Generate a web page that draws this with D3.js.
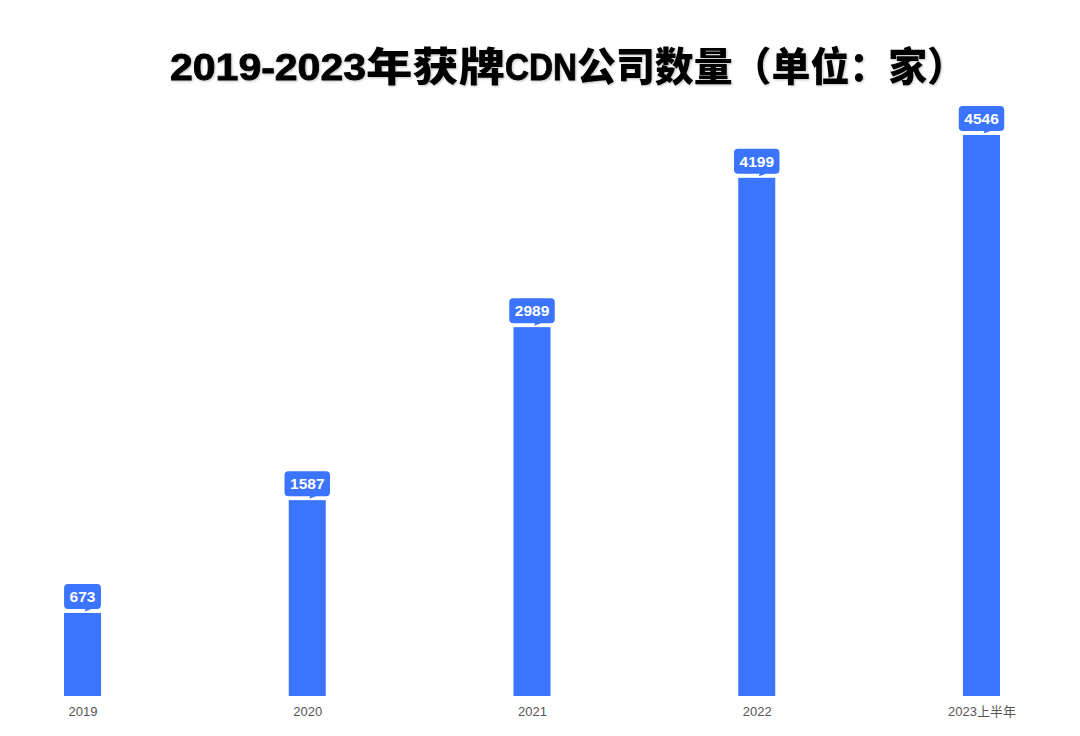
<!DOCTYPE html>
<html><head><meta charset="utf-8">
<script src="https://cdn.jsdelivr.net/npm/d3@7"></script>
<style>
html,body{margin:0;padding:0;background:#fff;}
</style></head>
<body>
<svg id="chart" width="1080" height="736"></svg>
<script>
const categories = ["2019","2020","2021","2022","2023上半年"];
const values = [673, 1587, 2989, 4199, 4546];
const titleParts = ["2019-2023", "年获牌", "CDN", "公司数量（单位：家）"];

const W = 1080, H = 736;
const svg = d3.select("#chart");
const barColor = "#3b74fe";

const x = d3.scalePoint().domain(categories).range([82.5, 981.5]);
const y = d3.scaleLinear().domain([0, 4546]).range([696, 135]);
const barW = 37;

// title, segment layout (latin vs CJK)
const titleSegs = [
  {x0: 170, x1: 366, latin: true},
  {x0: 366, x1: 505, latin: false},
  {x0: 505, x1: 577, latin: true},
  {x0: 577, x1: 966, latin: false}
];
const tg = svg.append("g")
  .style("filter", "drop-shadow(1px 1px 1px rgba(0,0,0,0.25))");
titleParts.forEach((s, i) => {
  const seg = titleSegs[i];
  tg.append("text")
    .attr("x", seg.x0).attr("y", seg.latin ? 80 : 81)
    .attr("textLength", seg.x1 - seg.x0)
    .attr("lengthAdjust", "spacingAndGlyphs")
    .style("font-family", seg.latin ? "'Liberation Sans',sans-serif" : "'Noto Sans CJK SC',sans-serif")
    .style("font-weight", seg.latin ? "700" : "900")
    .style("font-size", seg.latin ? "36px" : "40px")
    .style("fill", "#000")
    .style("stroke", "#000").style("stroke-width", seg.latin ? "0.8px" : "0px")
    .text(s);
});

const g = svg.append("g");
g.selectAll("rect.bar").data(values).enter().append("rect")
  .attr("class", "bar")
  .attr("x", (d, i) => x(categories[i]) - barW / 2)
  .attr("y", d => y(d))
  .attr("width", barW)
  .attr("height", d => y(0) - y(d))
  .attr("fill", barColor);

// x axis labels
const xAxis = d3.axisBottom(x).tickSize(0).tickPadding(11);
const ax = svg.append("g").attr("transform", `translate(0,${y(0)})`).call(xAxis);
ax.select(".domain").remove();
ax.selectAll("text")
  .style("font-family", "'Liberation Sans','Noto Sans CJK SC',sans-serif")
  .style("font-size", "13px")
  .style("fill", "#555");

// bubble labels
const lab = svg.selectAll("g.lab").data(values).enter().append("g").attr("class", "lab")
  .attr("transform", (d, i) => `translate(${x(categories[i])},${y(d)})`);
lab.each(function(d) {
  const gg = d3.select(this);
  const bh = 25, bottom = -4, top = bottom - bh;
  const t = gg.append("text")
    .attr("x", 0).attr("y", (top + bottom) / 2 + 5.5)
    .attr("text-anchor", "middle")
    .style("font-family", "'Liberation Sans',sans-serif")
    .style("font-weight", "bold")
    .style("font-size", "15.5px")
    .style("fill", "#fff")
    .text(d);
  const bw = t.node().getComputedTextLength() + 11;
  gg.insert("path", "text")
    .attr("d", () => {
      const l = -bw / 2, r = bw / 2, rad = 4;
      return `M${l + rad},${top} H${r - rad} Q${r},${top} ${r},${top + rad} V${bottom - rad} Q${r},${bottom} ${r - rad},${bottom}`
        + ` H9 L2,${bottom + 2.5} L3,${bottom} H${l + rad} Q${l},${bottom} ${l},${bottom - rad} V${top + rad} Q${l},${top} ${l + rad},${top} Z`;
    })
    .attr("fill", barColor);
});
</script>
</body></html>
